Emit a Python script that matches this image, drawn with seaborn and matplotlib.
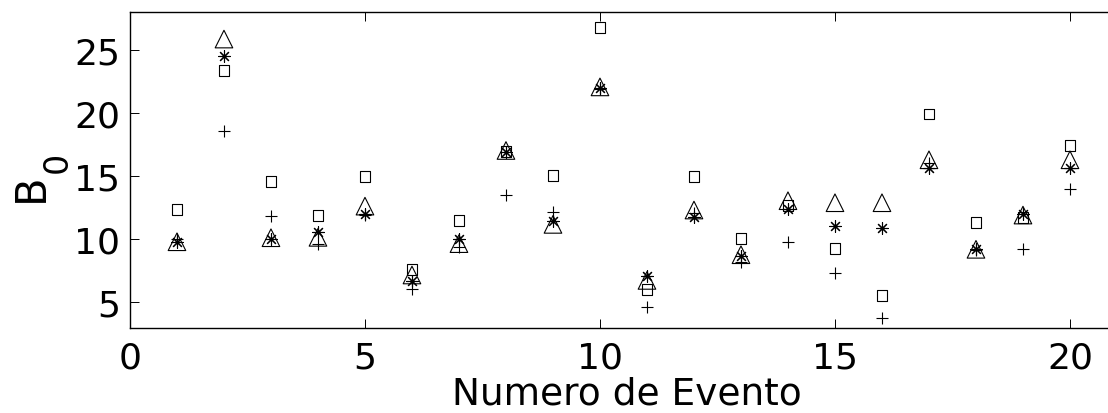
import matplotlib
matplotlib.use("Agg")
import matplotlib.pyplot as plt
import pandas as pd
import seaborn as sns

# B0 per event, one list per estimator
evento = list(range(1, 21))
b0_cuadrado = [12.32, 23.33, 14.55, 11.83, 14.92, 7.54, 11.43, 16.90, 15.00, 26.78,
               5.95, 14.92, 9.98, 12.62, 9.24, 5.48, 19.90, 11.25, 11.70, 17.38]
b0_triangulo = [9.75, 25.85, 10.07, 10.10, 12.58, 7.11, 9.60, 17.00, 11.13, 22.05,
                6.68, 12.27, 8.72, 13.01, 12.85, 12.85, 16.26, 9.15, 11.87, 16.26]
b0_asterisco = [9.71, 24.47, 9.98, 10.50, 11.96, 6.67, 9.98, 16.86, 11.43, 22.00,
                7.06, 11.70, 8.65, 12.36, 11.03, 10.82, 15.59, 9.20, 11.97, 15.59]
b0_cruz = [10.00, 18.57, 11.80, 9.58, 11.90, 6.00, 9.34, 13.47, 12.09, 21.90,
           4.55, 12.00, 8.13, 9.71, 7.25, 3.68, 16.00, 9.10, 9.18, 13.94]

x_ticks = [0, 5, 10, 15, 20]
y_ticks = [5, 10, 15, 20, 25]

sns.set_style("ticks")
plt.rcParams["font.family"] = ["DejaVu Sans"]
plt.rcParams["mathtext.fontset"] = "dejavusans"
for key in ["text.color", "axes.labelcolor", "xtick.color", "ytick.color",
            "axes.edgecolor"]:
    plt.rcParams[key] = "black"

df = pd.DataFrame({
    "evento": evento,
    "cuadrado": b0_cuadrado,
    "triangulo": b0_triangulo,
    "asterisco": b0_asterisco,
    "cruz": b0_cruz,
})

W, H = 1108, 414
fig = plt.figure(figsize=(W / 100, H / 100), dpi=100)
ax = fig.add_axes([0.1173, 0.2053, 0.8908, 0.7633])

sns.scatterplot(data=df, x="evento", y="cuadrado", marker="s", s=62,
                facecolor="none", edgecolor="k", linewidth=0.8, ax=ax)
sns.scatterplot(data=df, x="evento", y="triangulo", marker="^", s=160,
                facecolor="none", edgecolor="k", linewidth=0.8, ax=ax)
sns.scatterplot(data=df, x="evento", y="asterisco", marker=(8, 2, 0), s=72,
                color="k", linewidth=0.8, ax=ax)
sns.scatterplot(data=df, x="evento", y="cruz", marker="+", s=82,
                color="k", linewidth=0.8, ax=ax)

ax.set_xlim(0, 21)
ax.set_ylim(2.9, 28)
ax.set_xticks(x_ticks)
ax.set_yticks(y_ticks)
ax.set_xticklabels([str(t) for t in x_ticks])
ax.set_yticklabels([str(t) for t in y_ticks])

for side in ["left", "right", "top", "bottom"]:
    ax.spines[side].set_visible(True)
    ax.spines[side].set_color("k")
    ax.spines[side].set_linewidth(1.0)

ax.tick_params(axis="both", direction="in", length=6.5, width=0.7,
               top=True, right=True, labelsize=26, colors="k")
ax.tick_params(axis="x", pad=9.0)
ax.tick_params(axis="y", pad=7.0)

ax.set_xlabel("")
ax.set_ylabel("")

# axis titles, placed by pixel position (origin at the top-left corner)
def px(x, y):
    return x / W, 1 - y / H

fig.text(*px(627, 405), "Numero de Evento", fontsize=27, color="k",
         ha="center", va="baseline")
fig.text(*px(43, 202), "B", fontsize=30, color="k", rotation=90,
         rotation_mode="anchor", ha="left", va="baseline")
fig.text(*px(67, 173), "0", fontsize=24, color="k", rotation=90,
         rotation_mode="anchor", ha="left", va="baseline")

fig.savefig("out.png", dpi=100)
